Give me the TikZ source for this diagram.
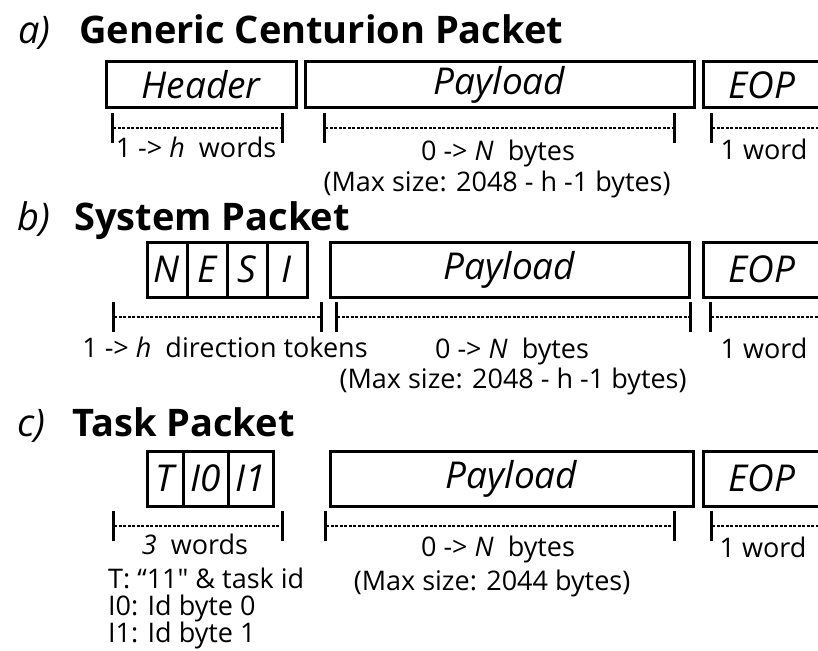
\documentclass[tikz,border=0pt]{standalone}
\usepackage{fontspec}
\setmainfont{Open Sans}
\usetikzlibrary{arrows.meta,positioning}

\begin{document}
\begin{tikzpicture}[x=1pt,y=-1pt]
\tikzstyle{fld}=[draw,line width=3pt,inner sep=0pt,outer sep=0pt,font=\fontsize{37}{42}\selectfont\itshape]
\tikzstyle{lbl}=[anchor=base,inner sep=0pt,font=\fontsize{27}{32}\selectfont]
\tikzstyle{ttl}=[anchor=base west,inner sep=0pt,font=\fontsize{38}{42}\selectfont\bfseries]
\tikzstyle{tag}=[anchor=base west,inner sep=0pt,font=\fontsize{38}{42}\selectfont\itshape]
\tikzstyle{dim}=[line width=1.2pt,dash pattern=on 3pt off 1.5pt]
\tikzstyle{tk}=[{Bar[width=30pt,line width=3pt]}-{Bar[width=30pt,line width=3pt]}]
\tikzstyle{tkl}=[{Bar[width=30pt,line width=3pt]}-]
\useasboundingbox (0,0) rectangle (818,650);
% a) generic packet
\node[tag] (ta) at (18,44) {a)};
\node[ttl] (na) at (79,44) {Generic Centurion Packet};
\node[fld,minimum width=190,minimum height=46] (hdra) at (201,85) {Header};
\node[fld,minimum width=389,minimum height=46] (pla) at (499.5,85) {Payload};
\node[fld,minimum width=118,minimum height=46] (eopa) at (762,85) {EOP};
\coordinate (a1) at (111,128); \coordinate (a2) at (284,128);
\coordinate (a3) at (323,128); \coordinate (a4) at (676,128);
\coordinate (a5) at (710,128); \coordinate (a6) at (822,128);
\draw[dim,tk] (a1) -- (a2); \draw[dim,tk] (a3) -- (a4); \draw[dim,tkl] (a5) -- (a6);
\node[lbl] (la1) at (196,157) {1 -> \textit{h}\ \ words};
\node[lbl] (la2) at (498,160) {0 -> \textit{N}\ \ bytes};
\node[lbl] (la3) at (497,191) {(Max size: 2048 - h -1 bytes)};
\node[lbl] (la4) at (764,159) {1 word};
% b) system packet
\node[tag] (tb) at (17,230) {b)};
\node[ttl] (nb) at (74,230) {System Packet};
\foreach \c/\x in {N/167,E/207,S/247,I/287}
  \node[fld,minimum width=40,minimum height=55] (d\c) at (\x,269.5) {\c};
\node[fld,minimum width=359,minimum height=55] (plb) at (509.5,269.5) {Payload};
\node[fld,minimum width=118,minimum height=55] (eopb) at (762,269.5) {EOP};
\coordinate (b1) at (112,317); \coordinate (b2) at (323,317);
\coordinate (b3) at (335,317); \coordinate (b4) at (692,317);
\coordinate (b5) at (709,317); \coordinate (b6) at (822,317);
\draw[dim,tk] (b1) -- (b2); \draw[dim,tk] (b3) -- (b4); \draw[dim,tkl] (b5) -- (b6);
\node[lbl] (lb1) at (225,357) {1 -> \textit{h}\ \ direction tokens};
\node[lbl] (lb2) at (512,358) {0 -> \textit{N}\ \ bytes};
\node[lbl] (lb3) at (513,388) {(Max size: 2048 - h -1 bytes)};
\node[lbl] (lb4) at (764,358) {1 word};
% c) task packet
\node[tag] (tc) at (17,436) {c)};
\node[ttl] (nc) at (72,436) {Task Packet};
\node[fld,minimum width=36,minimum height=55] (cT) at (165,478.5) {T};
\node[fld,minimum width=45,minimum height=55] (cI0) at (205.5,478.5) {I0};
\node[fld,minimum width=45,minimum height=55] (cI1) at (250.5,478.5) {I1};
\node[fld,minimum width=363,minimum height=55] (plc) at (511.5,478.5) {Payload};
\node[fld,minimum width=118,minimum height=55] (eopc) at (762,478.5) {EOP};
\coordinate (c1) at (112,526); \coordinate (c2) at (284,526);
\coordinate (c3) at (324,526); \coordinate (c4) at (676,526);
\coordinate (c5) at (710,526); \coordinate (c6) at (822,526);
\draw[dim,tk] (c1) -- (c2); \draw[dim,tk] (c3) -- (c4); \draw[dim,tkl] (c5) -- (c6);
\node[lbl] (lc1) at (195,554) {\textit{3}\ \ words};
\foreach \t/\y [count=\i] in {T: “11\textquotedbl{} \& task id/588,I0: Id byte 0/615,I1: Id byte 1/642}
  \node[lbl,anchor=base west] (key\i) at (108,\y) {\t};
\node[lbl] (lc2) at (498,556) {0 -> \textit{N}\ \ bytes};
\node[lbl] (lc3) at (492,590) {(Max size: 2044 bytes)};
\node[lbl] (lc4) at (763,557) {1 word};
\end{tikzpicture}
\end{document}
